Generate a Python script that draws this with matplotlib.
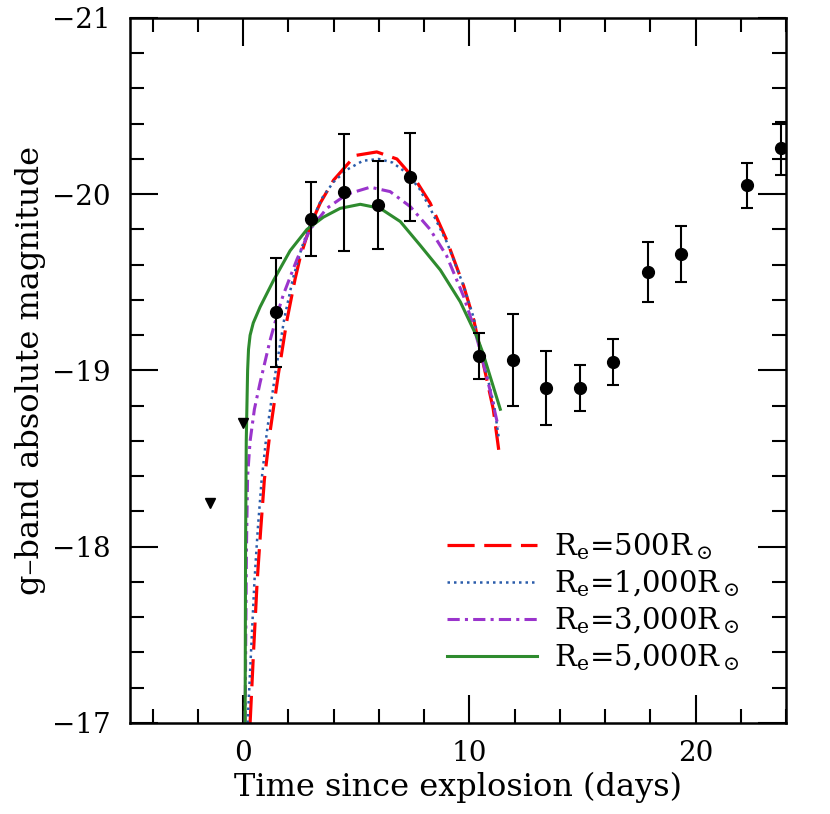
import numpy as np
import matplotlib
matplotlib.use("Agg")
import matplotlib.pyplot as plt
from matplotlib.ticker import MultipleLocator

plt.rcParams["font.family"] = ["DejaVu Serif"]
plt.rcParams["mathtext.fontset"] = "dejavuserif"

# ── observed g-band photometry ────────────────────────────────────────────────
t_obs = [1.46, 3.0, 4.47, 5.97, 7.39, 10.44, 11.95, 13.4, 14.9, 16.37,
         17.88, 19.34, 22.26, 23.76]
m_obs = [-19.33, -19.86, -20.01, -19.94, -20.10, -19.08, -19.06, -18.90,
         -18.90, -19.05, -19.56, -19.66, -20.05, -20.26]
m_err = [0.31, 0.21, 0.33, 0.25, 0.25, 0.13, 0.26, 0.21, 0.13, 0.13,
         0.17, 0.16, 0.13, 0.15]

# upper limits
t_lim = [-1.46, 0.0]
m_lim = [-18.25, -18.70]

# ── model light curves ────────────────────────────────────────────────────────
t_500 = [0.31, 0.46, 0.62, 0.78, 0.94, 1.19, 1.56, 1.93, 2.3, 2.52, 2.96,
         3.41, 4.0, 4.96, 5.91, 6.8, 7.68, 8.27, 9.0, 9.75, 10.19, 10.6,
         11.06, 11.3]
m_500 = [-17.0, -17.4, -17.8, -18.1, -18.38, -18.65, -18.98, -19.28, -19.52,
         -19.64, -19.82, -19.95, -20.08, -20.22, -20.24, -20.20, -20.07,
         -19.95, -19.74, -19.48, -19.29, -19.05, -18.78, -18.55]

t_1000 = [0.2, 0.35, 0.5, 0.65, 0.82, 1.05, 1.42, 1.83, 2.2, 2.6, 3.0, 3.5,
          4.0, 4.6, 5.3, 6.0, 6.6, 7.24, 7.8, 8.27, 9.0, 9.75, 10.19, 10.6,
          11.1, 11.3]
m_1000 = [-17.0, -17.4, -17.8, -18.1, -18.38, -18.65, -18.98, -19.30, -19.52,
          -19.70, -19.84, -19.98, -20.07, -20.14, -20.19, -20.20, -20.18,
          -20.12, -20.03, -19.92, -19.73, -19.48, -19.30, -19.07, -18.80,
          -18.62]

t_3000 = [0.09, 0.12, 0.15, 0.2, 0.31, 0.5, 0.75, 1.19, 1.56, 1.78, 2.38,
          2.96, 3.7, 4.59, 5.62, 6.5, 7.39, 8.27, 9.0, 9.75, 10.19, 10.49,
          10.93, 11.28]
m_3000 = [-17.0, -17.5, -18.0, -18.4, -18.6, -18.78, -18.93, -19.17, -19.34,
          -19.43, -19.63, -19.80, -19.92, -20.0, -20.04, -20.015, -19.93,
          -19.80, -19.65, -19.42, -19.25, -19.11, -18.88, -18.68]

t_5000 = [0.09, 0.11, 0.14, 0.2, 0.24, 0.31, 0.45, 0.75, 1.34, 2.08, 2.82,
          3.55, 4.29, 5.18, 6.06, 6.95, 7.83, 8.72, 9.6, 10.34, 10.6, 11.37]
m_5000 = [-17.0, -18.0, -18.6, -19.0, -19.12, -19.2, -19.27, -19.36, -19.51,
          -19.68, -19.80, -19.87, -19.92, -19.943, -19.92, -19.845, -19.71,
          -19.57, -19.39, -19.19, -19.10, -18.78]

labels = [r"R$_{\rm e}$=500R$_\odot$", r"R$_{\rm e}$=1,000R$_\odot$",
          r"R$_{\rm e}$=3,000R$_\odot$", r"R$_{\rm e}$=5,000R$_\odot$"]

# ── figure ────────────────────────────────────────────────────────────────────
fig = plt.figure(figsize=(8.3, 8.14), dpi=100)
ax = fig.add_axes([0.1566, 0.1118, 0.7904, 0.8661])

ax.plot(t_500, m_500, color="#ff0000", lw=2.3, ls=(0, (8.5, 3.0)), label=labels[0])
ax.plot(t_1000, m_1000, color="#2a5caa", lw=1.8, ls=(0, (1, 1.6)), label=labels[1])
ax.plot(t_3000, m_3000, color="#9a34cc", lw=2.2, ls=(0, (4, 1.7, 1, 1.7)),
        label=labels[2])
ax.plot(t_5000, m_5000, color="#2e8b2e", lw=2.2, ls="-", label=labels[3])

ax.errorbar(t_obs, m_obs, yerr=m_err, fmt="o", color="black", ms=8.5,
            elinewidth=1.5, capsize=4, capthick=1.5, zorder=5)
ax.plot(t_lim, m_lim, "v", color="black", ms=6.5, zorder=5)

ax.set_xlim(-5, 24)
ax.set_ylim(-17, -21)
ax.xaxis.set_major_locator(MultipleLocator(10))
ax.xaxis.set_minor_locator(MultipleLocator(2))
ax.yaxis.set_major_locator(MultipleLocator(1))
ax.yaxis.set_minor_locator(MultipleLocator(0.2))
ax.tick_params(which="both", direction="in", top=True, right=True,
               width=1.5, labelsize=20)
ax.tick_params(axis="x", pad=12)
ax.tick_params(axis="y", pad=14)
ax.tick_params(which="major", length=20)
ax.tick_params(which="minor", length=10)
for sp in ax.spines.values():
    sp.set_linewidth(1.8)

ax.set_xlabel("Time since explosion (days)", fontsize=23, labelpad=4)
ax.set_ylabel("g\u2013band absolute magnitude", fontsize=23, labelpad=4)

ax.legend(loc="upper left", bbox_to_anchor=(0.465, 0.289), frameon=False,
          fontsize=21, handlelength=3.1, handletextpad=0.58, labelspacing=0.22,
          borderaxespad=0)

fig.savefig("out.png", dpi=100)
